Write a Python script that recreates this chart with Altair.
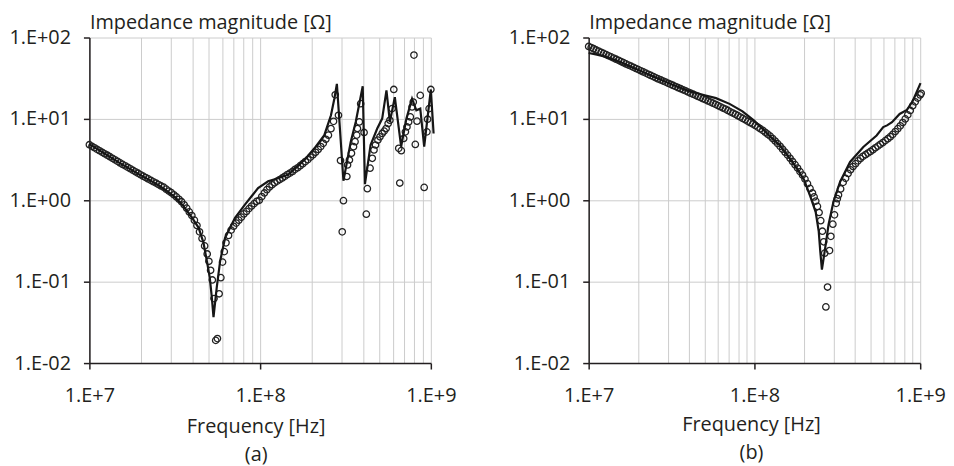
import altair as alt
import pandas as pd

# ---------------- data (frequency in MHz, impedance magnitude in ohm) ----------------
# Panel (a): measured (circles)
MEAS_A_MHZ = [
    10.0, 10.35, 10.72, 11.09, 11.48, 11.89, 12.30, 12.74, 13.18, 13.65,
    14.13, 14.62, 15.14, 15.67, 16.22, 16.79, 17.38, 17.99, 18.62, 19.28,
    19.95, 20.65, 21.38, 22.13, 22.91, 23.71, 24.55, 25.41, 26.30, 27.23,
    28.18, 29.17, 30.20, 31.26, 32.36, 33.50, 34.67, 35.89, 37.15, 38.46,
    39.81, 41.21, 42.66, 44.16, 45.71, 47.32, 48.98, 50.12, 51.29, 52.48,
    53.70, 54.95, 56.23, 57.54, 58.88, 60.26, 61.66, 63.10, 65.31, 67.61,
    69.98, 72.44, 74.99, 77.62, 80.35, 83.18, 86.10, 89.13, 92.26, 95.50,
    98.86, 102.3, 105.9, 109.6, 113.5, 117.5, 121.6, 125.9, 130.3, 134.9,
    139.6, 144.5, 149.6, 154.9, 160.3, 166.0, 171.8, 177.8, 184.1, 190.5,
    197.2, 204.2, 211.3, 218.8, 226.5, 234.4, 242.7, 251.2, 260.0, 269.2,
    275.4, 287.7, 295.8, 302.7, 307.6, 322.1, 325.1, 333.4, 342.8, 352.4,
    359.7, 368.1, 371.5, 381.1, 388.2, 406.4, 418.8, 424.6, 440.6, 453.9,
    464.5, 474.2, 489.8, 503.5, 518.8, 533.3, 547.0, 562.3, 575.4, 592.9,
    606.7, 648.6, 657.7, 671.4, 693.4, 709.6, 724.4, 741.3, 758.6, 776.2,
    788.9, 796.2, 811.0, 829.9, 867.0, 914.1, 948.4, 957.2, 977.2, 1000.0,
]
MEAS_A_OHM = [
    4.82, 4.61, 4.42, 4.23, 4.06, 3.89, 3.73, 3.58, 3.43, 3.28,
    3.14, 3.01, 2.88, 2.76, 2.65, 2.54, 2.44, 2.34, 2.24, 2.15,
    2.06, 1.98, 1.90, 1.83, 1.76, 1.69, 1.63, 1.56, 1.50, 1.45,
    1.37, 1.30, 1.24, 1.17, 1.10, 1.03, 0.96, 0.88, 0.80, 0.72,
    0.65, 0.57, 0.49, 0.41, 0.34, 0.275, 0.219, 0.178, 0.138, 0.105,
    0.062, 0.019, 0.020, 0.071, 0.112, 0.174, 0.234, 0.30, 0.37, 0.43,
    0.48, 0.525, 0.57, 0.62, 0.68, 0.73, 0.79, 0.85, 0.91, 0.97,
    1.00, 1.11, 1.23, 1.35, 1.46, 1.55, 1.64, 1.72, 1.80, 1.88,
    1.97, 2.07, 2.16, 2.26, 2.40, 2.51, 2.66, 2.82, 2.99, 3.16,
    3.39, 3.63, 3.89, 4.22, 4.57, 5.01, 5.62, 6.31, 7.59, 9.33,
    19.77, 11.09, 3.08, 0.41, 0.99, 1.96, 2.72, 3.13, 3.78, 4.56,
    5.25, 6.32, 7.62, 9.18, 15.38, 6.81, 0.675, 1.39, 2.48, 3.28,
    4.15, 4.78, 5.50, 6.03, 6.62, 7.08, 7.62, 8.77, 9.64, 13.37,
    23.0, 4.35, 1.63, 4.07, 5.75, 6.93, 7.98, 9.18, 10.57, 14.0,
    16.1, 60.8, 4.86, 9.38, 19.45, 1.44, 6.93, 9.91, 13.37, 23.0,
]
# Panel (a): simulated (line)
SIM_A_MHZ = [
    10.0, 12.59, 15.85, 19.95, 25.12, 28.18, 31.62, 35.48, 39.81, 43.65,
    46.56, 48.75, 50.70, 52.12, 53.33, 55.72, 58.34, 62.37, 71.29, 81.47,
    89.13, 97.27, 111.4, 127.4, 145.5, 166.3, 186.2, 208.0, 237.7, 260.0,
    272.3, 281.6, 307.6, 339.6, 363.1, 399.0, 411.1, 443.6, 485.3, 518.8,
    549.5, 575.4, 615.2, 669.9, 719.5, 776.2, 822.2, 867.0, 914.1, 1000.0,
    1037.6,
]
SIM_A_OHM = [
    4.90, 3.63, 2.69, 2.04, 1.55, 1.32, 1.10, 0.851, 0.617, 0.459,
    0.302, 0.180, 0.112, 0.0646, 0.0367, 0.0851, 0.180, 0.347, 0.608, 0.885,
    1.12, 1.41, 1.71, 1.87, 2.06, 2.63, 3.31, 4.35, 6.31, 11.09,
    17.78, 26.9, 1.74, 5.25, 9.18, 25.2, 1.58, 4.78, 7.62, 10.09,
    22.4, 9.18, 18.5, 4.56, 10.09, 17.7, 12.76, 13.37, 4.56, 23.0,
    6.61,
]

# Panel (b): measured (circles)
MEAS_B_MHZ = [
    10.00, 10.35, 10.72, 11.09, 11.48, 11.89, 12.30, 12.74, 13.18, 13.65,
    14.13, 14.62, 15.14, 15.67, 16.22, 16.79, 17.38, 17.99, 18.62, 19.28,
    19.95, 20.65, 21.38, 22.13, 22.91, 23.71, 24.55, 25.41, 26.30, 27.23,
    28.18, 29.17, 30.20, 31.26, 32.36, 33.50, 34.67, 35.89, 37.15, 38.46,
    39.81, 41.21, 42.66, 44.16, 45.71, 47.32, 48.98, 50.70, 52.48, 54.33,
    56.23, 58.21, 60.26, 62.37, 64.57, 66.83, 69.18, 71.61, 74.13, 76.74,
    79.43, 82.22, 85.11, 88.10, 91.20, 94.41, 97.72, 101.2, 104.7, 108.4,
    112.2, 116.1, 120.2, 124.5, 128.8, 133.4, 138.0, 142.9, 147.9, 153.1,
    158.5, 164.1, 169.8, 175.8, 182.0, 188.4, 195.0, 201.8, 208.9, 216.3,
    223.9, 229.1, 234.4, 239.9, 245.5, 251.2, 257.0, 261.8, 265.5, 269.8,
    276.1, 283.8, 289.1, 297.2, 304.1, 311.2, 316.2, 321.4, 331.1, 342.8,
    354.8, 367.3, 380.2, 393.6, 407.4, 421.7, 436.5, 451.9, 467.7, 484.2,
    501.2, 518.8, 537.0, 555.9, 575.4, 595.7, 616.6, 638.3, 660.7, 683.9,
    707.9, 732.8, 758.6, 785.2, 812.8, 841.4, 871.0, 901.6, 933.3, 966.1,
    1000.0, 1013.9,
]
MEAS_B_OHM = [
    77.6, 75.2, 72.8, 70.3, 68.1, 65.9, 63.8, 61.7, 59.7, 57.8,
    56.0, 54.1, 52.4, 50.7, 49.1, 47.4, 45.9, 44.5, 43.1, 41.6,
    40.3, 39.0, 37.8, 36.5, 35.3, 34.2, 33.1, 32.0, 31.0, 30.1,
    29.2, 28.3, 27.4, 26.6, 25.8, 25.0, 24.2, 23.5, 22.8, 22.1,
    21.4, 20.7, 20.1, 19.5, 18.9, 18.3, 17.7, 17.2, 16.6, 16.1,
    15.6, 15.1, 14.6, 14.1, 13.6, 13.2, 12.7, 12.2, 11.8, 11.4,
    10.96, 10.54, 10.14, 9.75, 9.35, 8.99, 8.65, 8.30, 7.93, 7.59,
    7.24, 6.85, 6.49, 6.14, 5.74, 5.35, 4.97, 4.60, 4.24, 3.90,
    3.59, 3.28, 3.00, 2.74, 2.49, 2.25, 2.04, 1.82, 1.60, 1.40,
    1.23, 1.10, 0.977, 0.841, 0.708, 0.562, 0.417, 0.309, 0.224, 0.049,
    0.086, 0.241, 0.361, 0.509, 0.662, 0.918, 1.047, 1.16, 1.38, 1.66,
    1.86, 2.14, 2.37, 2.60, 2.82, 3.05, 3.27, 3.47, 3.63, 3.80,
    3.98, 4.19, 4.42, 4.63, 4.88, 5.13, 5.41, 5.71, 6.05, 6.46,
    7.00, 7.59, 8.22, 9.02, 10.0, 11.2, 12.7, 14.5, 16.2, 18.0,
    19.7, 20.6,
]
# Panel (b): simulated (line)
SIM_B_MHZ = [
    10.0, 11.22, 12.59, 15.85, 19.95, 25.12, 31.62, 39.81, 50.12, 58.61,
    70.79, 84.72, 100.0, 111.7, 125.9, 141.3, 158.5, 177.8, 199.5, 217.3,
    234.4, 244.3, 249.5, 255.3, 267.3, 279.9, 299.9, 328.9, 377.6, 453.9,
    545.8, 598.4, 631.0, 676.1, 751.6, 831.8, 903.6, 1004.6,
]
SIM_B_OHM = [
    64.6, 61.7, 58.2, 49.0, 39.8, 32.4, 26.6, 22.1, 19.5, 18.0,
    15.3, 12.4, 9.44, 7.55, 5.96, 4.79, 3.55, 2.57, 1.78, 1.12,
    0.708, 0.415, 0.237, 0.141, 0.260, 0.500, 0.964, 1.69, 2.96, 4.52,
    6.25, 7.93, 8.32, 9.12, 11.5, 12.9, 16.7, 27.5,
]

X_TICKS = [1e7, 2e7, 3e7, 4e7, 5e7, 6e7, 7e7, 8e7, 9e7,
           1e8, 2e8, 3e8, 4e8, 5e8, 6e8, 7e8, 8e8, 9e8, 1e9]
Y_TICKS = [0.01, 0.1, 1, 10, 100]
Y_TITLE = "Impedance magnitude [Ω]"
X_TITLE = "Frequency [Hz]"

FONT = "Open Sans"
INK = "#231f20"
GRID = "#cccccc"

IS_DECADE = "abs(datum.value - pow(10, round(log(datum.value) / LN10))) < 1"
X_LABEL = "(" + IS_DECADE + ") ? '1.E+' + round(log(datum.value) / LN10) : ''"
Y_LABEL = ("round(log(datum.value) / LN10) == -2 ? '1.E-02' : "
           "round(log(datum.value) / LN10) == -1 ? '1.E-01' : "
           "round(log(datum.value) / LN10) == 0 ? '1.E+00' : "
           "round(log(datum.value) / LN10) == 1 ? '1.E+01' : '1.E+02'")


def panel(meas_f, meas_z, sim_f, sim_z, width, tag, title_x, title_y, line_h):
    assert len(meas_f) == len(meas_z) and len(sim_f) == len(sim_z)
    meas = pd.DataFrame({"f": [v * 1e6 for v in meas_f], "z": meas_z})
    sim = pd.DataFrame({"f": [v * 1e6 for v in sim_f], "z": sim_z})
    xs = alt.Scale(type="log", domain=[1e7, 1e9], nice=False)
    ys = alt.Scale(type="log", domain=[1e-2, 1e2], nice=False)
    xa = alt.Axis(
        values=X_TICKS, labelExpr=X_LABEL, labelFlush=False, labelOverlap=False,
        labelPadding=17,
        tickOpacity={"condition": {"test": IS_DECADE, "value": 1}, "value": 0},
        title=[X_TITLE, tag], titleX=title_x, titleY=title_y,
        titleBaseline="alphabetic", titleLineHeight=line_h, titleAlign="center",
    )
    ya = alt.Axis(
        values=Y_TICKS, labelExpr=Y_LABEL, labelFlush=False, labelPadding=13,
        title=Y_TITLE, titleAngle=0, titleX=0, titleY=-9,
        titleAlign="left", titleBaseline="alphabetic",
    )
    pts = alt.Chart(meas).mark_point(
        shape="circle", filled=False, size=42, strokeWidth=1.3, color="#222222", opacity=1
    ).encode(x=alt.X("f:Q", scale=xs, axis=xa), y=alt.Y("z:Q", scale=ys, axis=ya))
    line = alt.Chart(sim).mark_line(color="#161616", strokeWidth=2.2).encode(
        x=alt.X("f:Q", scale=xs, axis=xa), y=alt.Y("z:Q", scale=ys, axis=ya)
    )
    return alt.layer(pts, line).properties(width=width, height=328)


pa = panel(MEAS_A_MHZ, MEAS_A_OHM, SIM_A_MHZ, SIM_A_OHM, 344, "(a)", 167.5, 70, 28.5)
pb = panel(MEAS_B_MHZ, MEAS_B_OHM, SIM_B_MHZ, SIM_B_OHM, 334, "(b)", 163.5, 68, 28)

chart = alt.hconcat(pa, pb, spacing=51).properties(
    padding={"left": 0, "top": 3, "right": 0, "bottom": 4}
).configure_view(
    stroke=None
).configure_axis(
    labelFont=FONT, labelFontSize=20, labelColor=INK,
    titleFont=FONT, titleFontSize=20, titleFontWeight="normal", titleColor=INK,
    domainColor=INK, domainWidth=1.5, tickColor=INK, tickWidth=1.5, tickSize=6,
    grid=True, gridColor=GRID, gridWidth=1, gridOpacity=1,
)

chart.save("out.html", embed_options={"renderer": "svg", "actions": False})
